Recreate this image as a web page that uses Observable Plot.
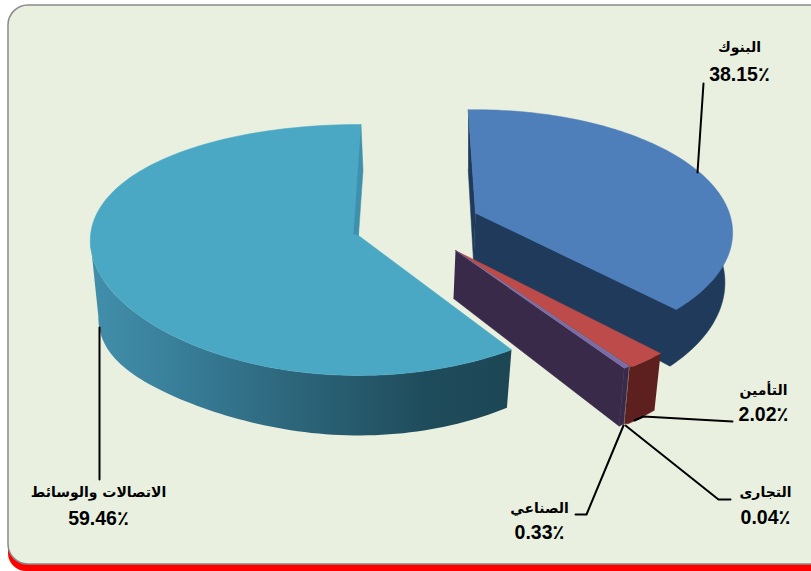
<!DOCTYPE html>
<html><head><meta charset="utf-8">
<script src="https://cdn.jsdelivr.net/npm/d3@7"></script>
<script src="https://cdn.jsdelivr.net/npm/@observablehq/plot@0.6"></script>
<style>html,body{margin:0;padding:0;background:#fff;overflow:hidden}svg{display:block}</style>
</head><body><script>
// Data
const categories = ["البنوك","التأمين","التجارى","الصناعي","الاتصالات والوسائط"];
const shares = [38.15,2.02,0.04,0.33,59.46];
const percentLabels = ["38.15٪","2.02٪","0.04٪","0.33٪","59.46٪"];

// Drawing set-up: one entry per slice
const faceColors = ["#4e7fba","#bd4b4a","#4a4a40","#7b6aa8","#4aa8c5"];
const wallColors = ["#1f3a5a","#5e1f1f","#77776c","#3a2a4a","url(#tealWall)"];
const twists = [-1.9,-0.84,-0.84,-0.84,0.56];
const explode = [
  {cx:475,cy:213,rx:254,k:120,p:0.156,q:0.156,lean:0},
  {cx:455,cy:250,rx:273,k:130,p:0.1155,q:0.1155,lean:0},
  {cx:455,cy:250,rx:267,k:130,p:0.1155,q:0.1155,lean:0},
  {cx:455,cy:250,rx:267,k:130,p:0.1155,q:0.1155,lean:0},
  {cx:358,cy:235,rx:268,k:123.8,p:0.1155,q:0.04,lean:28}
];
const labelX = [739,763,765,539,98];
const labelY = [[47,74],[390,414],[492,517],[508,532],[492,518]];
const leaders = [
  [[703,83],[697,172]],
  [[732,421],[643,416],[634,420]],
  [[730,499],[718,499],[625,425]],
  [[575,514],[586,514],[623,425]],
  [[99,327],[99,479]]
];
const panel = [{x1:8,x2:830,y1:5,y2:564}];
const shadow = [{x1:8,x2:830,y1:20,y2:571}];

const rad = Math.PI/180;
const arcs = d3.pie().sort(null).value(d=>d)(shares);
const slices = arcs.map((a,i)=>({
  i, a0:a.startAngle/rad+twists[i], a1:a.endAngle/rad+twists[i], ...explode[i]
}));
const drop = v => 48+12*v;
function rim(s,deg,level){
  const u=Math.sin(deg*rad), v=-Math.cos(deg*rad);
  const sx = level? 0.97:1;
  const extra = level? s.lean*Math.pow(Math.max(0,-u),4):0;
  return [s.cx+s.rx*sx*u/(1-s.q*v), s.cy+s.k*v/(1-s.p*v)+(level?drop(v):0)+extra];
}
function arcPts(s,a0,a1,level){
  const n=Math.max(2,Math.ceil(Math.abs(a1-a0)/1.5)), out=[];
  for(let j=0;j<=n;j++) out.push(rim(s,a0+(a1-a0)*j/n,level));
  return out;
}
const apex = s => [s.cx,s.cy];
const apexLow = s => [s.cx-2,s.cy+drop(0)];
const poly = (pts,fill) => Plot.line(pts,{x:d=>d[0],y:d=>d[1],fill,stroke:fill.startsWith("url")?"none":fill,strokeWidth:0.5,curve:"linear"});
const face = s => poly([apex(s),...arcPts(s,s.a0,s.a1,0)],faceColors[s.i]);
const wall = (s,a0,a1) => poly([...arcPts(s,a0,a1,0),...arcPts(s,a1,a0,1)],wallColors[s.i]);
const cutWall = (s,deg) => poly([apex(s),rim(s,deg,0),rim(s,deg,1),apexLow(s)],wallColors[s.i]);

const [bank,insurance,trade,industry,telecom] = slices;
const bankStart = rim(bank,bank.a0,0);
const telecomEnd = rim(telecom,telecom.a1,0);
const bankSliver = [bankStart,apex(bank),apexLow(bank),[bankStart[0],bankStart[1]+60]];
const telecomSliver = [telecomEnd,[telecomEnd[0]+2,telecomEnd[1]+46],apex(telecom),[telecom.cx-5,telecom.cy-2]];
const bankBody = [apex(bank),rim(bank,bank.a0+40,0),...arcPts(bank,bank.a0+40,bank.a1,1),apexLow(bank)];
const insuranceFace = [apex(insurance),...arcPts(insurance,insurance.a0,insurance.a1,0),rim(trade,trade.a0,0)];
const insuranceWall = [...arcPts(insurance,insurance.a0,insurance.a1,0),rim(trade,trade.a0,0),rim(trade,trade.a0,1),...arcPts(insurance,insurance.a1,insurance.a0,1)];

const defs = () => {
  const svg = d3.create("svg:defs");
  const g = svg.append("linearGradient").attr("id","tealWall").attr("gradientUnits","userSpaceOnUse")
    .attr("x1",90).attr("x2",510).attr("y1",0).attr("y2",0);
  [[0,"#428fab"],[0.2,"#397f9a"],[0.5,"#2c6479"],[0.8,"#1f4c5c"],[1,"#1c4654"]]
    .forEach(([o,c])=>g.append("stop").attr("offset",o).attr("stop-color",c));
  return svg.node();
};

const labelRows = categories.flatMap((c,i)=>[
  {t:c,x:labelX[i],y:labelY[i][0],ar:true},
  {t:percentLabels[i],x:labelX[i],y:labelY[i][1],ar:false}
]);

const chart = Plot.plot({
  width:811,height:571,margin:0,
  x:{domain:[0,811],range:[0,811],axis:null},
  y:{domain:[0,571],range:[0,571],axis:null},
  marks:[
    defs,
    Plot.rect(shadow,{x1:"x1",x2:"x2",y1:"y1",y2:"y2",fill:"#fe0000",rx:18}),
    Plot.rect(panel,{x1:"x1",x2:"x2",y1:"y1",y2:"y2",fill:"#eaf0e0",stroke:"#8a8a8a",strokeWidth:1.5,rx:20}),
    // telecom
    wall(telecom,telecom.a0,268),
    face(telecom),
    poly(telecomSliver,"#3f90ad"),
    // banks
    poly(bankBody,wallColors[0]),
    poly(bankSliver,wallColors[0]),
    face(bank),
    // small slices
    poly(insuranceWall,wallColors[1]),
    poly(insuranceFace,faceColors[1]),
    wall(trade,trade.a0,trade.a1),
    face(trade),
    wall(industry,industry.a0,industry.a1),
    cutWall(industry,industry.a1),
    face(industry),
    // leaders and labels
    ...leaders.map(l=>Plot.line(l,{x:d=>d[0],y:d=>d[1],stroke:"#000",strokeWidth:2,curve:"linear"})),
    Plot.text(labelRows.filter(d=>d.ar),{x:"x",y:"y",text:"t",fontSize:14,fontWeight:"bold",fontFamily:"DejaVu Sans",fill:"#000"}),
    Plot.text(labelRows.filter(d=>!d.ar),{x:"x",y:"y",text:"t",fontSize:19.5,fontWeight:"bold",fontFamily:"Liberation Sans, DejaVu Sans",fill:"#000"})
  ]
});
document.body.appendChild(chart);
</script></body></html>
